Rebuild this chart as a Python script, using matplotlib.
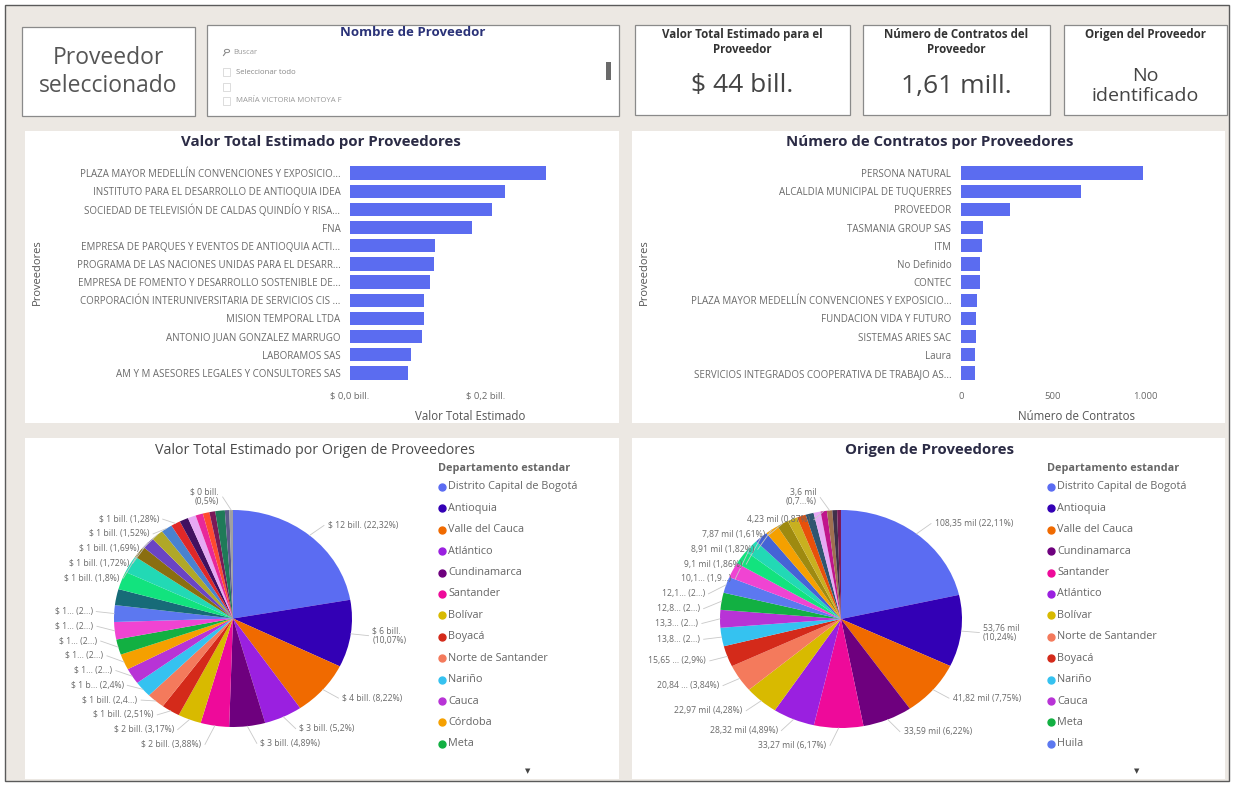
import numpy as np
import matplotlib
matplotlib.use("Agg")
import matplotlib.pyplot as plt
from matplotlib.patches import Rectangle, Circle

plt.rcParams['font.family'] = ['Open Sans', 'DejaVu Sans']

# ---- data ----
valor_proveedores = [
    "PLAZA MAYOR MEDELLÍN CONVENCIONES Y EXPOSICIO...",
    "INSTITUTO PARA EL DESARROLLO DE ANTIOQUIA IDEA",
    "SOCIEDAD DE TELEVISIÓN DE CALDAS QUINDÍO Y RISA...",
    "FNA",
    "EMPRESA DE PARQUES Y EVENTOS DE ANTIOQUIA ACTI...",
    "PROGRAMA DE LAS NACIONES UNIDAS PARA EL DESARR...",
    "EMPRESA DE FOMENTO Y DESARROLLO SOSTENIBLE DE...",
    "CORPORACIÓN INTERUNIVERSITARIA DE SERVICIOS CIS ...",
    "MISION TEMPORAL LTDA",
    "ANTONIO JUAN GONZALEZ MARRUGO",
    "LABORAMOS SAS",
    "AM Y M ASESORES LEGALES Y CONSULTORES SAS",
]
valor_bill = [0.29, 0.23, 0.21, 0.18, 0.126, 0.124, 0.118, 0.11, 0.109, 0.106, 0.09, 0.086]
valor_ticks = [0.0, 0.2]
valor_ticklabels = ["$ 0,0 bill.", "$ 0,2 bill."]

contratos_proveedores = [
    "PERSONA NATURAL",
    "ALCALDIA MUNICIPAL DE TUQUERRES",
    "PROVEEDOR",
    "TASMANIA GROUP SAS",
    "ITM",
    "No Definido",
    "CONTEC",
    "PLAZA MAYOR MEDELLÍN CONVENCIONES Y EXPOSICIO...",
    "FUNDACION VIDA Y FUTURO",
    "SISTEMAS ARIES SAC",
    "Laura",
    "SERVICIOS INTEGRADOS COOPERATIVA DE TRABAJO AS...",
]
contratos_n = [990, 654, 266, 117, 115, 105, 104, 86, 82, 82, 77, 77]
contratos_ticks = [0, 500, 1000]
contratos_ticklabels = ["0", "500", "1.000"]

# pie 1: valor total estimado por origen (percent of total)
pie1_values = [22.32, 10.07, 8.22, 5.2, 4.89, 3.88, 3.17, 2.51, 2.45, 2.42, 2.38, 2.35,
               2.3, 2.6, 2.5, 2.4, 2.7, 2.6, 1.8, 1.72, 1.69, 1.52, 1.28, 1.2, 1.1, 1.0,
               0.9, 0.8, 1.3, 0.6, 0.5]
pie1_labels = ["$ 12 bill. (22,32%)", "$ 6 bill.\n(10,07%)", "$ 4 bill. (8,22%)",
               "$ 3 bill. (5,2%)", "$ 3 bill. (4,89%)", "$ 2 bill. (3,88%)",
               "$ 2 bill. (3,17%)", "$ 1 bill. (2,51%)", "$ 1 bill. (2,4...)",
               "$ 1 b... (2,4%)", "$ 1... (2...)", "$ 1... (2...)", "$ 1... (2...)",
               "$ 1... (2...)", "$ 1... (2...)", "", "", "",
               "$ 1 bill. (1,8%)", "$ 1 bill. (1,72%)", "$ 1 bill. (1,69%)",
               "$ 1 bill. (1,52%)", "$ 1 bill. (1,28%)", "", "", "", "", "", "", "",
               "$ 0 bill.\n(0,5%)"]
pie1_colors = ["#5B6CF2", "#3300B5", "#F06A00", "#9A20E0", "#6E007E", "#EE0A9A",
               "#D8BA00", "#D42A1A", "#F47A5C", "#35C2F0", "#B833D6", "#F5A000",
               "#12B042", "#F044D2", "#5C78F0", "#176B78", "#12E37E", "#22D9B5",
               "#8A6E10", "#6A44C4", "#B0A828", "#4A82CF", "#E02828", "#421060",
               "#E6A8F4", "#E8289A", "#FF4A30", "#7A1A58", "#1F7A58", "#5A5A8A",
               "#A0A0A0"]
pie1_legend = ["Distrito Capital de Bogotá", "Antioquia", "Valle del Cauca", "Atlántico",
               "Cundinamarca", "Santander", "Bolívar", "Boyacá", "Norte de Santander",
               "Nariño", "Cauca", "Córdoba", "Meta"]

# pie 2: número de contratos por origen (miles)
pie2_values = [108.35, 53.76, 41.82, 33.59, 33.27, 28.32, 22.97, 20.84, 15.65, 13.8,
               13.3, 12.8, 12.1, 11.4, 10.6, 10.1, 9.1, 8.91, 7.87, 6.8, 6.0, 5.4, 4.8,
               4.23, 3.6, 3.2, 2.6]
pie2_labels = ["108,35 mil (22,11%)", "53,76 mil\n(10,24%)", "41,82 mil (7,75%)",
               "33,59 mil (6,22%)", "33,27 mil (6,17%)", "28,32 mil (4,89%)",
               "22,97 mil (4,28%)", "20,84 ... (3,84%)", "15,65 ... (2,9%)",
               "13,8... (2...)", "13,3... (2...)", "12,8... (2...)", "12,1... (2...)",
               "", "", "10,1... (1,9...)", "9,1 mil (1,86%)", "8,91 mil (1,82%)",
               "7,87 mil (1,61%)", "", "", "", "", "4,23 mil (0,87%)",
               "3,6 mil\n(0,7...%)", "", ""]
pie2_colors = ["#5B6CF2", "#3300B5", "#F06A00", "#6E007E", "#EE0A9A", "#9A20E0",
               "#D8BA00", "#F47A5C", "#D42A1A", "#35C2F0", "#B833D6", "#12B042",
               "#5C78F0", "#F044D2", "#12E37E", "#22D9B5", "#4563D6", "#F5A000",
               "#9E8A10", "#C8B020", "#E8500A", "#2F5570", "#E6A8F4", "#C0148C",
               "#A07050", "#40304A", "#7A1A58"]
pie2_legend = ["Distrito Capital de Bogotá", "Antioquia", "Valle del Cauca", "Cundinamarca",
               "Santander", "Atlántico", "Bolívar", "Norte de Santander", "Boyacá",
               "Nariño", "Cauca", "Meta", "Huila"]

W, H = 1234, 785
BAR = "#5B6CF0"
GREY = "#6a6a6a"


def fbox(x0, y0, x1, y1):
    return [x0 / W, 1 - y1 / H, (x1 - x0) / W, (y1 - y0) / H]


def ftext(x, y, s, **kw):
    fig.text(x / W, 1 - y / H, s, **kw)


def panel(x0, y0, x1, y1, edge="none", lw=0.0, face="white"):
    fig.add_artist(Rectangle((x0 / W, 1 - y1 / H), (x1 - x0) / W, (y1 - y0) / H,
                             transform=fig.transFigure, facecolor=face,
                             edgecolor=edge, linewidth=lw, zorder=-5))


fig = plt.figure(figsize=(W / 100, H / 100), dpi=100)
fig.patch.set_facecolor("white")

# outer frame + background
panel(5, 5, 1229, 781, edge="#5a5a5a", lw=1.0, face="#ECE8E3")

# ---- top cards ----
panel(22, 27, 195, 116, edge="#8a8a8a", lw=0.9)
ftext(108, 72, "Proveedor\nseleccionado", ha="center", va="center", fontsize=16.5,
      color="#555555", linespacing=1.2)

panel(207, 25, 619, 116, edge="#8a8a8a", lw=0.9)
ftext(413, 33, "Nombre de Proveedor", ha="center", va="center", fontsize=9.5,
      fontweight="bold", color="#2a3278")
# search magnifier icon (no installed font has the glyph)
fig.add_artist(Circle((227 / W, 1 - 51 / H), 2.6 / W, transform=fig.transFigure,
                      facecolor="none", edgecolor="#888888", linewidth=0.7))
fig.add_artist(plt.Line2D([223.5 / W, 225.3 / W], [1 - 55.5 / H, 1 - 53 / H],
                          color="#888888", linewidth=0.8, transform=fig.transFigure))
ftext(233, 53, "Buscar", ha="left", va="center", fontsize=5.5, color="#999999")
for yy in (72, 87, 101):
    panel(223, yy - 4, 230, yy + 4, edge="#cfcfcf", lw=0.5)
ftext(236, 72, "Seleccionar todo", ha="left", va="center", fontsize=5.6, color="#888888")
ftext(236, 101, "MARÍA VICTORIA MONTOYA F", ha="left", va="center", fontsize=5.6,
      color="#999999")
panel(606, 62, 611, 80, face="#6a6a6a")

cards = [
    (635, 850, "Valor Total Estimado para el\nProveedor", "$ 44 bill.", 19),
    (863, 1050, "Número de Contratos del\nProveedor", "1,61 mill.", 19),
    (1064, 1227, "Origen del Proveedor", "No\nidentificado", 14),
]
for x0, x1, title, value, fs in cards:
    panel(x0, 25, x1, 115, edge="#8a8a8a", lw=0.9)
    ftext((x0 + x1) / 2, 28, title, ha="center", va="top", fontsize=8.3,
          fontweight="bold", color="#333333", linespacing=1.2)
    ftext((x0 + x1) / 2, 86, value, ha="center", va="center", fontsize=fs,
          color="#444444", linespacing=1.15)

# ---- bar charts ----
panel(25, 131, 619, 423)
panel(632, 131, 1225, 423)


def bar_chart(box, names, vals, xmax, ticks, ticklabels, xlabel):
    ax = fig.add_axes(fbox(*box))
    ax.set_facecolor("none")
    y = np.arange(len(names))
    ax.barh(y, vals, height=0.74, color=BAR)
    ax.set_ylim(len(names) - 0.5, -0.5)
    ax.set_xlim(0, xmax)
    ax.set_yticks(y)
    ax.set_yticklabels(names, fontsize=7.0, color=GREY)
    ax.set_xticks(ticks)
    ax.set_xticklabels(ticklabels, fontsize=6.8, color=GREY)
    ax.tick_params(length=0, pad=7)
    for sp in ax.spines.values():
        sp.set_visible(False)
    ax.set_xlabel(xlabel, fontsize=8.3, color="#555555")
    ax.xaxis.set_label_coords(0.5, -0.13)
    return ax


bar_chart((350, 164, 590, 382), valor_proveedores, valor_bill, 0.355,
          valor_ticks, valor_ticklabels, "Valor Total Estimado")
bar_chart((961, 164, 1191, 382), contratos_proveedores, contratos_n, 1250,
          contratos_ticks, contratos_ticklabels, "Número de Contratos")

ftext(321, 142, "Valor Total Estimado por Proveedores", ha="center", va="center",
      fontsize=10.8, fontweight="bold", color="#2b2b45")
ftext(930, 142, "Número de Contratos por Proveedores", ha="center", va="center",
      fontsize=10.8, fontweight="bold", color="#2b2b45")
ftext(37, 272, "Proveedores", ha="center", va="center", rotation=90, fontsize=8,
      color="#555555")
ftext(644, 272, "Proveedores", ha="center", va="center", rotation=90, fontsize=8,
      color="#555555")

# ---- pies ----
panel(25, 438, 619, 779)
panel(632, 438, 1225, 779)


def pie_chart(box, vals, labels, colors):
    ax = fig.add_axes(fbox(*box))
    wedges, _ = ax.pie(vals, colors=colors, startangle=90, counterclock=False,
                       wedgeprops=dict(linewidth=0))
    ax.set_aspect("auto")
    ax.set_xlim(-1, 1)
    ax.set_ylim(-1, 1)
    ax.axis("off")
    items = []
    for w, lab in zip(wedges, labels):
        if not lab:
            continue
        mid = np.deg2rad((w.theta1 + w.theta2) / 2)
        c, s = np.cos(mid), np.sin(mid)
        side = 1 if c >= 0 else -1
        items.append([side, c, s, s * 1.12, lab])
    for side in (1, -1):
        grp = sorted([it for it in items if it[0] == side], key=lambda it: -it[3])

        def gap(a, b):
            return 0.068 * (a[4].count("\n") + b[4].count("\n") + 2)

        # push down from the top, then lift back up from the bottom limit
        for i in range(1, len(grp)):
            if grp[i - 1][3] - grp[i][3] < gap(grp[i - 1], grp[i]):
                grp[i][3] = grp[i - 1][3] - gap(grp[i - 1], grp[i])
        if grp and grp[-1][3] < -1.16:
            grp[-1][3] = -1.16
            for i in range(len(grp) - 2, -1, -1):
                if grp[i][3] - grp[i + 1][3] < gap(grp[i], grp[i + 1]):
                    grp[i][3] = grp[i + 1][3] + gap(grp[i], grp[i + 1])
        for sd, c, s, ty, lab in grp:
            tx = sd * (abs(c) * 1.08 + 0.1)
            ax.plot([c, tx - sd * 0.03], [s, ty], color="#c8c8c8", lw=0.6,
                    clip_on=False)
            ax.text(tx, ty, lab, ha="left" if sd > 0 else "right", va="center",
                    fontsize=6.2, color=GREY, clip_on=False, linespacing=1.0)
    return ax


pie_chart((114, 510, 352, 727), pie1_values, pie1_labels, pie1_colors)
pie_chart((720, 510, 962, 728), pie2_values, pie2_labels, pie2_colors)

ftext(315, 450, "Valor Total Estimado por Origen de Proveedores", ha="center",
      va="center", fontsize=10.3, color="#4a4a4a")
ftext(930, 450, "Origen de Proveedores", ha="center", va="center", fontsize=10.8,
      fontweight="bold", color="#2b2b45")


def legend(x, names, colors):
    ftext(x - 4, 469, "Departamento estandar", ha="left", va="center", fontsize=7.8,
          fontweight="bold", color="#666666")
    for i, (n, c) in enumerate(zip(names, colors)):
        yy = 487 + i * 21.4
        fig.add_artist(plt.Line2D([x / W], [1 - yy / H], marker="o", markersize=5,
                                  color=c, transform=fig.transFigure))
        ftext(x + 6, yy, n, ha="left", va="center", fontsize=7.8, color="#666666")


legend(442, pie1_legend, pie1_colors)
legend(1051, pie2_legend, pie2_colors)
ftext(528, 772, "▼", ha="center", va="center", fontsize=5, color="#444444")
ftext(1137, 772, "▼", ha="center", va="center", fontsize=5, color="#444444")

fig.savefig("out.png", dpi=100)
